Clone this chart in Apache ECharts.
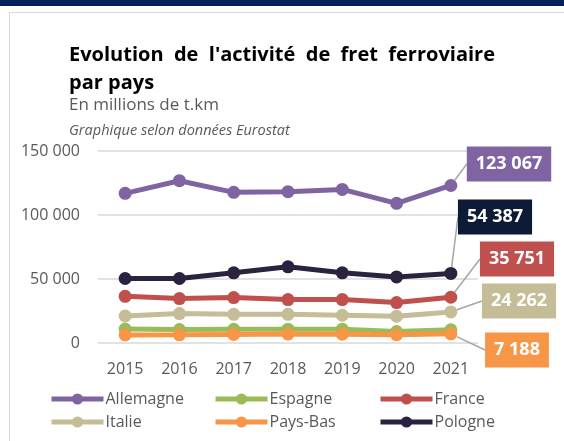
<!DOCTYPE html>
<html>
<head>
<meta charset="utf-8">
<script src="https://cdn.jsdelivr.net/npm/echarts@6/dist/echarts.min.js"></script>
<style>
  html, body { margin: 0; padding: 0; background: #fff; }
  #topbar { position: absolute; left: 0; top: 0; width: 564px; height: 6px; background: #002060; }
  #card { position: absolute; left: 9px; top: 12px; width: 600px; height: 440px; border-left: 1px solid #d9d9d9; border-top: 1px solid #d9d9d9; }
  #chart { position: absolute; left: 0; top: 0; width: 564px; height: 441px; }
</style>
</head>
<body>
<div id="topbar"></div>
<div id="card"></div>
<div id="chart"></div>
<script>
// years on the x axis
const years = ['2015', '2016', '2017', '2018', '2019', '2020', '2021']

// millions de t.km (last point = labelled value)
const allemagne = [116900, 126800, 117700, 118200, 120000, 109100, 123067]
const espagne   = [10900, 10500, 10700, 10800, 10800, 8900, 10300]
const france    = [36500, 34700, 35500, 33900, 33900, 31600, 35751]
const italie    = [21100, 23000, 22400, 22400, 21700, 20900, 24262]
const paysBas   = [6300, 6400, 6700, 7000, 6900, 6500, 7188]
const pologne   = [50400, 50400, 54800, 59500, 54800, 51600, 54387]

const yTicks = [0, 50000, 100000, 150000]

const fmt = (v) => String(v).replace(/\B(?=(\d{3})+(?!\d))/g, ' ')

let chart = echarts.init(document.getElementById('chart'))

const mkSeries = (name, values, color, labelColor, labelPos) => {
    let data = values.map((v, i) => {
        if (labelPos && i === values.length - 1) {
            return {
                value: v,
                label: {
                    show: true,
                    formatter: (p) => fmt(p.value),
                    color: '#fff',
                    fontSize: 18,
                    fontWeight: 'bold',
                    fontFamily: 'Open Sans',
                    backgroundColor: labelColor,
                    padding: [7, 9, 6, 9],
                    lineHeight: 22
                },
                labelLine: {
                    show: true,
                    lineStyle: { color: '#a6a6a6', width: 1.5 }
                }
            }
        }
        return v
    })
    return {
        name: name,
        type: 'line',
        data: data,
        symbol: 'circle',
        symbolSize: 13,
        lineStyle: { width: 5, color: color },
        itemStyle: { color: color },
        label: { show: false },
        labelLayout: labelPos ? { x: labelPos[0], y: labelPos[1], align: 'center', verticalAlign: 'middle' } : undefined,
        animation: false
    }
}

const legendBase = {
    orient: 'vertical',
    top: 386,
    itemWidth: 52,
    itemHeight: 14,
    itemGap: 7,
    lineStyle: { width: 5 },
    textStyle: { color: '#595959', fontSize: 16, fontFamily: 'Open Sans', padding: [0, 0, 0, -3] },
    selectedMode: false
}

const option = {
    backgroundColor: 'transparent',
    title: [{
        text: "Evolution  de  l'activité  de  fret  ferroviaire\npar pays",
        left: 64,
        top: 36,
        textStyle: { color: '#000', fontSize: 20, fontWeight: 'bold', fontFamily: 'Open Sans', lineHeight: 28 }
    }, {
        text: 'En millions de t.km',
        left: 64,
        top: 92,
        textStyle: { color: '#595959', fontSize: 17, fontWeight: 'normal', fontFamily: 'Open Sans' }
    }, {
        text: 'Graphique selon données Eurostat',
        left: 64,
        top: 118,
        textStyle: { color: '#595959', fontSize: 14.5, fontWeight: 'normal', fontStyle: 'italic', fontFamily: 'Open Sans' }
    }],
    grid: { left: 98, right: 86, top: 151, bottom: 98, containLabel: false },
    xAxis: {
        type: 'category',
        data: years,
        boundaryGap: true,
        axisLine: { show: false },
        axisTick: { show: false },
        axisLabel: { color: '#595959', fontSize: 16, fontFamily: 'Open Sans', margin: 18 }
    },
    yAxis: {
        type: 'value',
        min: yTicks[0],
        max: yTicks[yTicks.length - 1],
        interval: 50000,
        axisLine: { show: false },
        axisTick: { show: false },
        axisLabel: { color: '#595959', fontSize: 16, fontFamily: 'Open Sans', margin: 18, formatter: (v) => fmt(v) },
        splitLine: { lineStyle: { color: '#d9d9d9', width: 1.5 } }
    },
    legend: [
        Object.assign({}, legendBase, { left: 44, data: ['Allemagne', 'Italie'] }),
        Object.assign({}, legendBase, { left: 208, data: ['Espagne', 'Pays-Bas'] }),
        Object.assign({}, legendBase, { left: 373, data: ['France', 'Pologne'] })
    ],
    series: [
        mkSeries('Allemagne', allemagne, '#8064a2', '#8064a2', [509, 164]),
        mkSeries('Espagne', espagne, '#9bbb59', null, null),
        mkSeries('France', france, '#c0504d', '#c0504d', [517, 259]),
        mkSeries('Italie', italie, '#c4bd97', '#c4bd97', [519, 301]),
        mkSeries('Pays-Bas', paysBas, '#f79646', '#f79646', [517, 350]),
        mkSeries('Pologne', pologne, '#2b2240', '#0e1b36', [495, 217])
    ]
}

chart.setOption(option)
</script>
</body>
</html>
